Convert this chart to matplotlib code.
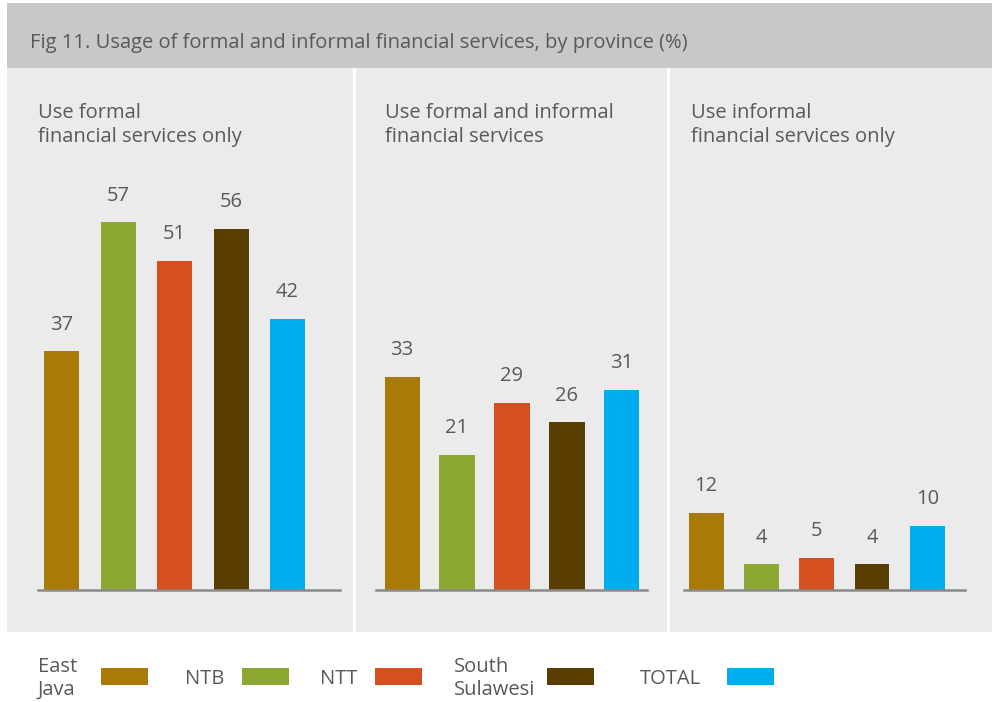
import matplotlib
matplotlib.use("Agg")
import matplotlib.pyplot as plt
from matplotlib.patches import Rectangle

plt.rcParams['font.family'] = ['Open Sans', 'DejaVu Sans']

title = "Fig 11. Usage of formal and informal financial services, by province (%)"
panel_titles = ["Use formal\nfinancial services only",
                "Use formal and informal\nfinancial services",
                "Use informal\nfinancial services only"]
provinces = ["East\nJava", "NTB", "NTT", "South\nSulawesi", "TOTAL"]
formal_only = [37, 57, 51, 56, 42]
formal_and_informal = [33, 21, 29, 26, 31]
informal_only = [12, 4, 5, 4, 10]
colors = ["#a97a06", "#8ca832", "#d4501f", "#5a3d00", "#00aeef"]

series = [formal_only, formal_and_informal, informal_only]

W, H = 992, 702
fig = plt.figure(figsize=(W / 100, H / 100), dpi=100, facecolor="white")

def fx(px):
    return px / W

def fy(py):
    return 1 - py / H

txt_color = "#595959"

# header
fig.patches.append(Rectangle((fx(7), fy(68)), fx(992 - 7), (65) / H,
                             transform=fig.transFigure, facecolor="#c8c8c9",
                             edgecolor="none", zorder=-5))
fig.text(fx(30), fy(43), title, fontsize=14.5, color=txt_color, va="center", ha="left")

# panel backgrounds
panel_bounds = [(7, 353), (356, 667), (670, 992)]
for (a, b) in panel_bounds:
    fig.patches.append(Rectangle((fx(a), fy(632)), fx(b - a), (632 - 68) / H,
                                 transform=fig.transFigure, facecolor="#ebebeb",
                                 edgecolor="none", zorder=-5))

# axes layout: (left px, right px, xlim, bar width, title x px)
axes_spec = [(38, 340, (-0.42, 4.93), 0.62, 38),
             (376, 647, (-0.475, 4.457), 0.64, 385),
             (684, 965, (-0.40, 4.68), 0.63, 691)]
base_y = 590
top_y = 170
px_per_unit = 6.45

for i, (l, r, xl, bw, tx) in enumerate(axes_spec):
    ax = fig.add_axes([fx(l), fy(base_y), fx(r - l), (base_y - top_y) / H])
    ax.set_facecolor("none")
    bars = ax.bar(range(len(provinces)), series[i], width=bw, color=colors, zorder=2)
    ax.bar_label(bars, labels=[str(v) for v in series[i]], padding=12,
                 fontsize=14.5, color=txt_color)
    ax.set_xlim(*xl)
    ax.set_ylim(0, (base_y - top_y) / px_per_unit)
    for s in ["top", "left", "right"]:
        ax.spines[s].set_visible(False)
    ax.spines["bottom"].set_color("#8a8a8a")
    ax.spines["bottom"].set_linewidth(1.8)
    ax.set_xticks([])
    ax.set_yticks([])
    fig.text(fx(tx), fy(103), panel_titles[i], fontsize=14.5, color=txt_color,
             va="top", ha="left", linespacing=1.25)

# legend (manual layout to match the reference's irregular spacing)
legend_text_x = [38, 185, 320, 454, 640]
legend_swatch_x = [101, 242, 375, 547, 727]
sw_w, sw_top, sw_bot = 47, 668, 685
legend_y = 678.5
for name, c, txx, swx in zip(provinces, colors, legend_text_x, legend_swatch_x):
    fig.text(fx(txx), fy(legend_y), name, fontsize=14.5, color=txt_color,
             va="center", ha="left", linespacing=1.2)
    fig.patches.append(Rectangle((fx(swx), fy(sw_bot)), fx(sw_w), (sw_bot - sw_top) / H,
                                 transform=fig.transFigure, facecolor=c,
                                 edgecolor="none"))

fig.savefig("out.png", dpi=100, facecolor="white")
